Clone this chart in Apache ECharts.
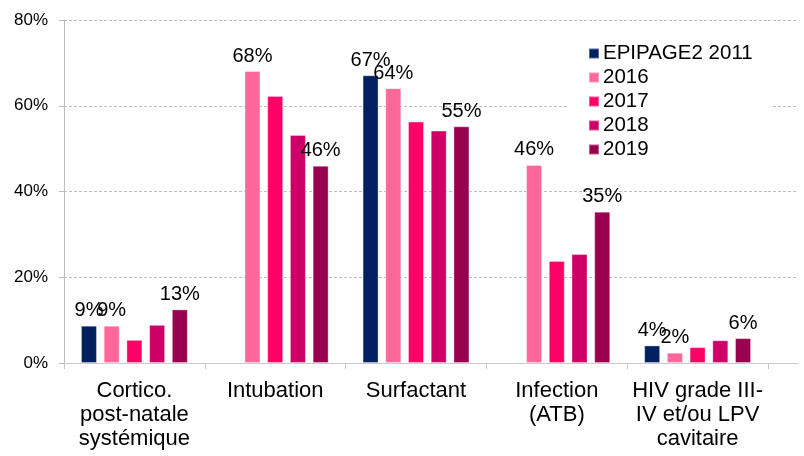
<!DOCTYPE html>
<html>
<head>
<meta charset="utf-8">
<script src="https://cdn.jsdelivr.net/npm/echarts@6/dist/echarts.min.js"></script>
<style>html,body{margin:0;padding:0;background:#fff}#c{width:804px;height:456px}</style>
</head>
<body>
<div id="c"></div>
<script>
const categories = ['Cortico.\npost-natale\nsystémique', 'Intubation', 'Surfactant', 'Infection\n(ATB)', 'HIV grade III-\nIV et/ou LPV\ncavitaire'];
const seriesNames = ['EPIPAGE2 2011', '2016', '2017', '2018', '2019'];
const epipage2011 = [8.7, null, 67.1, null, 4.1];
const y2016 = [8.7, 68.1, 64.1, 46.2, 2.4];
const y2017 = [5.4, 62.3, 56.3, 23.8, 3.7];
const y2018 = [8.9, 53.2, 54.2, 25.4, 5.3];
const y2019 = [12.5, 46.0, 55.2, 35.3, 5.8];
// which bars carry a value label (1 = shown)
const lbl2011 = [1, 0, 1, 0, 1];
const lbl2016 = [1, 1, 1, 1, 1];
const lbl2017 = [0, 0, 0, 0, 0];
const lbl2018 = [0, 0, 0, 0, 0];
const lbl2019 = [1, 1, 1, 1, 1];
const yTicks = [0, 20, 40, 60, 80];

const colors = ['#002060', '#FF6699', '#FF0066', '#CC0066', '#990050'];
const values = [epipage2011, y2016, y2017, y2018, y2019];
const labels = [lbl2011, lbl2016, lbl2017, lbl2018, lbl2019];
const FONT = '"Liberation Sans", Arial, sans-serif';

const chart = echarts.init(document.getElementById('c'));
const series = seriesNames.map((name, i) => ({
  name: name,
  type: 'bar',
  xAxisIndex: 0,
  yAxisIndex: 0,
  barWidth: 16,
  barGap: '42%',
  itemStyle: { color: colors[i], borderColor: 'rgba(255,255,255,0.35)', borderWidth: 1 },
  data: values[i].map((v, j) => ({
    value: v,
    label: {
      show: !!labels[i][j] && v != null,
      position: 'top',
      distance: 5,
      formatter: (p) => Math.round(p.value) + '%',
      fontSize: 20,
      fontFamily: FONT,
      color: '#000'
    }
  }))
}));

chart.setOption({
  animation: false,
  backgroundColor: '#fff',
  color: colors,
  textStyle: { fontFamily: FONT },
  legend: {
    orient: 'vertical',
    left: 568,
    top: 41,
    padding: [2, 18, 2, 20],
    backgroundColor: '#fff',
    itemWidth: 10,
    itemHeight: 10,
    itemGap: 3,
    icon: 'rect',
    textStyle: { fontSize: 20.5, fontFamily: FONT, color: '#000', lineHeight: 20, padding: [0, 0, 0, -1] },
    data: seriesNames,
    z: 10
  },
  grid: [
    { left: 64, right: 36, top: 20, bottom: 93 },
    { left: 768, right: 6, top: 20, bottom: 93 }
  ],
  xAxis: [
    {
      type: 'category',
      gridIndex: 0,
      data: categories,
      axisLine: { lineStyle: { color: '#c8c8c8', width: 1 } },
      axisTick: { show: true, length: 6, lineStyle: { color: '#c8c8c8' } },
      axisLabel: { fontSize: 22, fontFamily: FONT, color: '#000', lineHeight: 24, margin: 16, interval: 0 }
    },
    {
      type: 'category',
      gridIndex: 1,
      data: [''],
      axisLine: { lineStyle: { color: '#c8c8c8', width: 1 } },
      axisTick: { show: false },
      axisLabel: { show: false }
    }
  ],
  yAxis: [
    {
      type: 'value',
      gridIndex: 0,
      min: yTicks[0],
      max: yTicks[yTicks.length - 1],
      interval: 20,
      axisLine: { show: true, lineStyle: { color: '#bdbdbd', width: 1 } },
      axisTick: { show: true, length: 5, lineStyle: { color: '#bdbdbd' } },
      axisLabel: { fontSize: 17, fontFamily: FONT, color: '#000', margin: 16, formatter: '{value}%' },
      splitLine: { show: true, lineStyle: { color: '#bfbfbf', type: [3, 2], width: 1 } }
    },
    {
      type: 'value',
      gridIndex: 1,
      min: yTicks[0],
      max: yTicks[yTicks.length - 1],
      interval: 20,
      axisLine: { show: false },
      axisTick: { show: false },
      axisLabel: { show: false },
      splitLine: { show: true, lineStyle: { color: '#bfbfbf', type: [3, 2], width: 1 } }
    }
  ],
  series: series
});
</script>
</body>
</html>
